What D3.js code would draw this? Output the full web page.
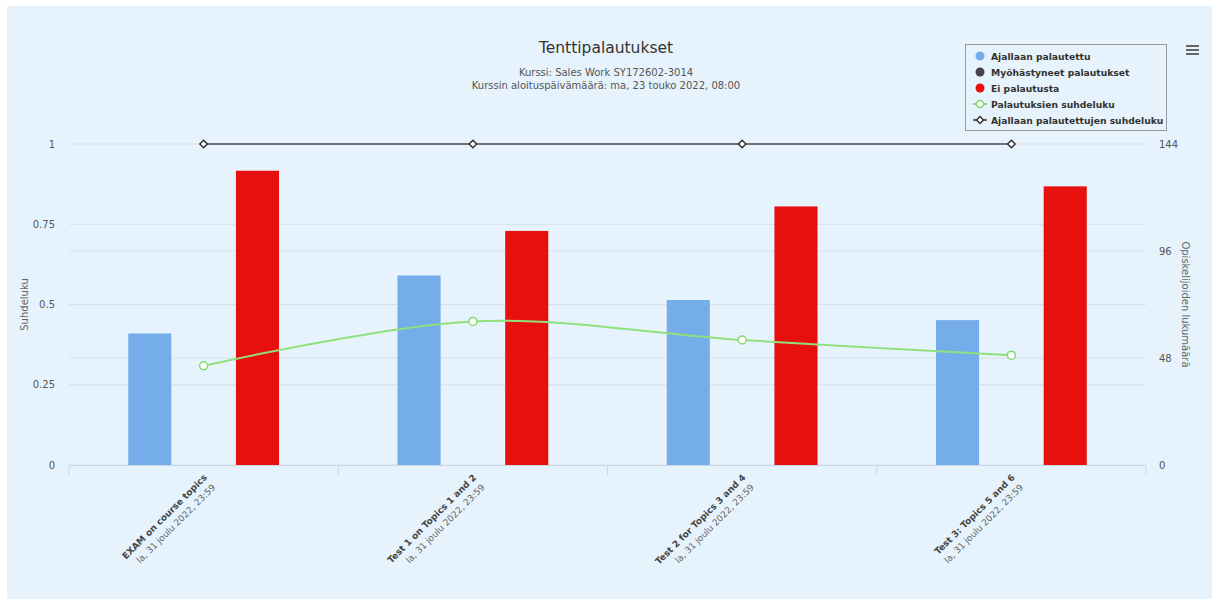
<!DOCTYPE html>
<html>
<head>
<meta charset="utf-8">
<script src="https://cdn.jsdelivr.net/npm/d3@7"></script>
<style>
  html, body { margin: 0; padding: 0; background: #ffffff; }
  svg { display: block; font-family: "DejaVu Sans", "Open Sans", sans-serif; }
</style>
</head>
<body>
<svg id="chart" width="1212" height="599"></svg>
<script>
// Exam submissions per assignment
const categories = [
  "EXAM on course topics",
  "Test 1 on Topics 1 and 2",
  "Test 2 for Topics 3 and 4",
  "Test 3: Topics 5 and 6"
];
const deadlines = [
  "la, 31 joulu 2022, 23:59",
  "la, 31 joulu 2022, 23:59",
  "la, 31 joulu 2022, 23:59",
  "la, 31 joulu 2022, 23:59"
];
const onTime = [59, 85, 74, 65];        // Ajallaan palautettu
const late = [0, 0, 0, 0];              // Myöhästyneet palautukset
const notSubmitted = [132, 105, 116, 125]; // Ei palautusta
const onTimeShare = [1, 1, 1, 1];       // Ajallaan palautettujen suhdeluku
const leftTicks = [0, 0.25, 0.5, 0.75, 1];
const rightTicks = [0, 48, 96, 144];

// Share of students who submitted at all
const submissionRatio = onTime.map((v, i) => (v + late[i]) / (v + late[i] + notSubmitted[i]));

const columnSeries = [
  { name: "Ajallaan palautettu", color: "#74ade9", values: onTime },
  { name: "Myöhästyneet palautukset", color: "#434348", values: late },
  { name: "Ei palautusta", color: "#e80f0f", values: notSubmitted }
];

const svg = d3.select("#chart");
const plot = { left: 69, right: 1146, top: 144, bottom: 465 };

// background panel
svg.append("rect").attr("x", 7).attr("y", 6).attr("width", 1205).attr("height", 593)
  .attr("fill", "#e7f3fc");

// scales
const x = d3.scaleBand().domain(categories).range([plot.left, plot.right]).padding(0);
const xInner = d3.scaleBand().domain(columnSeries.map(s => s.name))
  .range([x.bandwidth() * 0.2, x.bandwidth() * 0.8]).paddingInner(0.2).paddingOuter(0.1);
const yLeft = d3.scaleLinear().domain([0, 1]).range([plot.bottom, plot.top]);
const yRight = d3.scaleLinear().domain([0, 144]).range([plot.bottom, plot.top]);

// grid lines from both axes
const grid = svg.append("g");
grid.selectAll("line.l").data(leftTicks).join("line")
  .attr("x1", plot.left).attr("x2", plot.right)
  .attr("y1", d => yLeft(d)).attr("y2", d => yLeft(d))
  .attr("stroke", "#d6e0ea").attr("stroke-width", 1);
grid.selectAll("line.r").data(rightTicks.filter(d => d > 0 && d < 144)).join("line")
  .attr("x1", plot.left).attr("x2", plot.right)
  .attr("y1", d => yRight(d)).attr("y2", d => yRight(d))
  .attr("stroke", "#d6e0ea").attr("stroke-width", 1);

// x axis line and category boundary ticks
svg.append("line").attr("x1", plot.left).attr("x2", plot.right)
  .attr("y1", plot.bottom + 0.5).attr("y2", plot.bottom + 0.5)
  .attr("stroke", "#cbd6e6");
const boundaries = categories.map(c => x(c)).concat([plot.right]);
svg.selectAll("line.xt").data(boundaries).join("line")
  .attr("x1", d => d).attr("x2", d => d)
  .attr("y1", plot.bottom).attr("y2", plot.bottom + 10)
  .attr("stroke", "#cbd6e6");

// columns
const groups = svg.append("g").selectAll("g").data(columnSeries).join("g")
  .attr("fill", d => d.color);
groups.selectAll("rect").data(s => s.values.map((v, i) => ({ s, v, c: categories[i] }))).join("rect")
  .attr("x", d => x(d.c) + xInner(d.s.name))
  .attr("width", xInner.bandwidth())
  .attr("y", d => yRight(d.v))
  .attr("height", d => yRight(0) - yRight(d.v));

// on-time share line (dark, diamonds)
const cx = c => x(c) + x.bandwidth() / 2;
svg.append("path")
  .datum(onTimeShare)
  .attr("fill", "none").attr("stroke", "#4a4a4f").attr("stroke-width", 1.3)
  .attr("d", d3.line().x((d, i) => cx(categories[i])).y(d => yLeft(d)));
svg.append("g").selectAll("path").data(onTimeShare).join("path")
  .attr("d", d3.symbol(d3.symbolDiamond2, 36))
  .attr("transform", (d, i) => `translate(${cx(categories[i])},${yLeft(d)})`)
  .attr("fill", "#ffffff").attr("stroke", "#333333").attr("stroke-width", 1.5);

// submission ratio spline (green, hollow circles)
svg.append("path")
  .datum(submissionRatio)
  .attr("fill", "none").attr("stroke", "#90e07d").attr("stroke-width", 2)
  .attr("d", d3.line().curve(d3.curveCatmullRom.alpha(0.5)).x((d, i) => cx(categories[i])).y(d => yLeft(d)));
svg.append("g").selectAll("circle").data(submissionRatio).join("circle")
  .attr("cx", (d, i) => cx(categories[i])).attr("cy", d => yLeft(d)).attr("r", 4)
  .attr("fill", "#ffffff").attr("stroke", "#83d96f").attr("stroke-width", 1.5);

// left axis labels
svg.append("g").selectAll("text").data(leftTicks).join("text")
  .attr("x", 55).attr("y", d => yLeft(d) + 3.5)
  .attr("text-anchor", "end").attr("font-size", 10).attr("fill", "#555")
  .text(d => d);
svg.append("text")
  .attr("transform", `translate(28,${(plot.top + plot.bottom) / 2}) rotate(-90)`)
  .attr("text-anchor", "middle").attr("font-size", 10).attr("fill", "#666")
  .text("Suhdeluku");

// right axis labels
svg.append("g").selectAll("text").data(rightTicks).join("text")
  .attr("x", 1159).attr("y", d => yRight(d) + 3.5)
  .attr("text-anchor", "start").attr("font-size", 10).attr("fill", "#555")
  .text(d => d);
svg.append("text")
  .attr("transform", `translate(1182,${(plot.top + plot.bottom) / 2}) rotate(90)`)
  .attr("text-anchor", "middle").attr("font-size", 10).attr("fill", "#666")
  .text("Opiskelijoiden lukumäärä");

// rotated category labels
const xl = svg.append("g").selectAll("g").data(categories).join("g")
  .attr("transform", c => `translate(${cx(c) + 4},${plot.bottom + 13}) rotate(-45)`);
xl.append("text").attr("text-anchor", "end").attr("font-size", 9)
  .attr("font-weight", "bold").attr("fill", "#444")
  .text(c => c);
xl.append("text").attr("text-anchor", "end").attr("font-size", 9)
  .attr("x", -1).attr("y", 13).attr("fill", "#666")
  .text((c, i) => deadlines[i]);

// titles
svg.append("text").attr("x", 606).attr("y", 53).attr("text-anchor", "middle")
  .attr("font-size", 15.5).attr("fill", "#333").text("Tenttipalautukset");
svg.append("text").attr("x", 606).attr("y", 76).attr("text-anchor", "middle")
  .attr("font-size", 10).attr("fill", "#555").text("Kurssi: Sales Work SY172602-3014");
svg.append("text").attr("x", 606).attr("y", 89).attr("text-anchor", "middle")
  .attr("font-size", 10).attr("fill", "#555").text("Kurssin aloituspäivämäärä: ma, 23 touko 2022, 08:00");

// legend
const legendItems = [
  { name: "Ajallaan palautettu", type: "dot", color: "#74ade9" },
  { name: "Myöhästyneet palautukset", type: "dot", color: "#434348" },
  { name: "Ei palautusta", type: "dot", color: "#e80f0f" },
  { name: "Palautuksien suhdeluku", type: "circle", color: "#83d96f" },
  { name: "Ajallaan palautettujen suhdeluku", type: "diamond", color: "#333333" }
];
const lg = svg.append("g").attr("transform", "translate(965,44)");
lg.append("rect").attr("x", 0.5).attr("y", 0.5).attr("width", 201).attr("height", 86)
  .attr("fill", "#e7f3fc").attr("stroke", "#999").attr("stroke-width", 1);
const li = lg.selectAll("g").data(legendItems).join("g")
  .attr("transform", (d, i) => `translate(0,${12 + i * 16})`);
li.filter(d => d.type === "dot").append("circle")
  .attr("cx", 15).attr("cy", 0).attr("r", 4.5).attr("fill", d => d.color);
li.filter(d => d.type !== "dot").append("line")
  .attr("x1", 8).attr("x2", 22).attr("y1", 0).attr("y2", 0)
  .attr("stroke", d => d.color).attr("stroke-width", d => d.type === "circle" ? 2 : 1.5);
li.filter(d => d.type === "circle").append("circle")
  .attr("cx", 15).attr("cy", 0).attr("r", 3.5)
  .attr("fill", "#fff").attr("stroke", d => d.color).attr("stroke-width", 1.5);
li.filter(d => d.type === "diamond").append("path")
  .attr("d", d3.symbol(d3.symbolDiamond2, 30)).attr("transform", "translate(15,0)")
  .attr("fill", "#fff").attr("stroke", d => d.color).attr("stroke-width", 1.5);
li.append("text").attr("x", 26).attr("y", 3.5).attr("font-size", 9.2)
  .attr("font-weight", "bold").attr("fill", "#333").text(d => d.name);

// context menu icon
const menu = svg.append("g").attr("transform", "translate(1186,45)");
[0, 4, 8].forEach(dy => menu.append("rect").attr("x", 0).attr("y", dy).attr("width", 13)
  .attr("height", 2).attr("fill", "#666"));
</script>
</body>
</html>
